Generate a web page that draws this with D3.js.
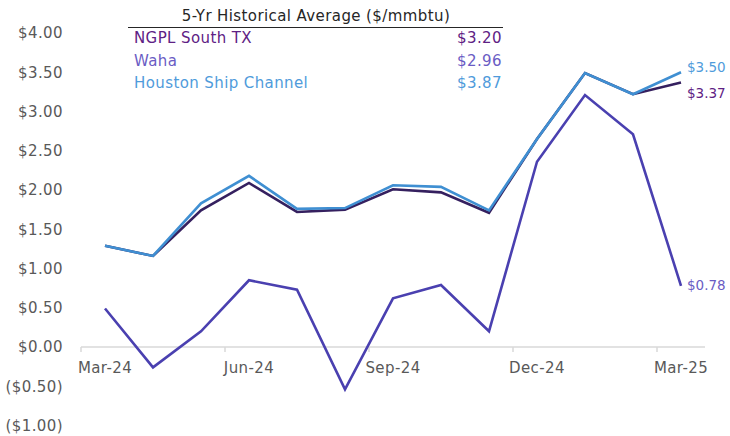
<!DOCTYPE html>
<html>
<head>
<meta charset="utf-8">
<script src="https://cdn.jsdelivr.net/npm/d3@7"></script>
<style>
  body { margin: 0; background: #fff; }
  svg text { font-family: "DejaVu Sans", "Noto Sans", sans-serif; letter-spacing: 0.4px; }
</style>
</head>
<body>
<div id="chart"></div>
<script>
const width = 730;
const height = 436;

// Data
const months = ["Mar-24", "Apr-24", "May-24", "Jun-24", "Jul-24", "Aug-24", "Sep-24",
  "Oct-24", "Nov-24", "Dec-24", "Jan-25", "Feb-25", "Mar-25"];
const ngpl = [1.29, 1.16, 1.74, 2.09, 1.72, 1.75, 2.01, 1.97, 1.71, 2.65, 3.49, 3.22, 3.37];
const waha = [0.49, -0.26, 0.20, 0.85, 0.73, -0.54, 0.62, 0.79, 0.20, 2.36, 3.21, 2.71, 0.78];
const hsc = [1.29, 1.16, 1.83, 2.18, 1.76, 1.77, 2.06, 2.04, 1.74, 2.65, 3.49, 3.22, 3.50];
const xTickLabels = ["Mar-24", "Jun-24", "Sep-24", "Dec-24", "Mar-25"];
const yTicks = [-1, -0.5, 0, 0.5, 1, 1.5, 2, 2.5, 3, 3.5, 4];
const legendNames = ["NGPL South TX", "Waha", "Houston Ship Channel"];
const legendAvg = [3.20, 2.96, 3.87];

const lineColors = ["#35205f", "#4a40b0", "#3f8fd2"];
const textColors = ["#5e2184", "#6a5cc4", "#4f9bdb"];

const svg = d3.select("#chart")
  .append("svg")
  .attr("width", width)
  .attr("height", height);

const x = d3.scaleBand()
  .domain(months)
  .range([81, 705]);

const y = d3.scaleLinear()
  .domain([-1, 4])
  .range([425.5, 33]);

const money = v => v < 0 ? "($" + d3.format(".2f")(-v) + ")" : "$" + d3.format(".2f")(v);
const fs = "15px";

// y labels
svg.append("g")
  .selectAll("text")
  .data(yTicks)
  .enter()
  .append("text")
  .attr("x", 63)
  .attr("y", d => y(d))
  .attr("dy", "0.35em")
  .attr("text-anchor", "end")
  .style("font-size", fs)
  .style("fill", "#595959")
  .text(money);

// x axis
const xAxis = svg.append("g");
xAxis.append("line")
  .attr("x1", 81).attr("x2", 705)
  .attr("y1", y(0)).attr("y2", y(0))
  .attr("stroke", "#d9d9d9")
  .attr("stroke-width", 1.5);

const tickIdx = [0, 3, 6, 9, 12];
xAxis.selectAll("line.tick")
  .data(tickIdx)
  .enter()
  .append("line")
  .attr("class", "tick")
  .attr("x1", d => x(months[d])).attr("x2", d => x(months[d]))
  .attr("y1", y(0)).attr("y2", y(0) + 5)
  .attr("stroke", "#d9d9d9")
  .attr("stroke-width", 1.5);

xAxis.selectAll("text")
  .data(xTickLabels)
  .enter()
  .append("text")
  .attr("x", d => x(d) + x.bandwidth() / 2)
  .attr("y", y(0) + 21)
  .attr("dy", "0.35em")
  .attr("text-anchor", "middle")
  .style("font-size", fs)
  .style("fill", "#595959")
  .text(d => d);

// lines
const line = d3.line()
  .x((d, i) => x(months[i]) + x.bandwidth() / 2)
  .y(d => y(d));

const series = [ngpl, waha, hsc];
[waha, ngpl, hsc].forEach(s => {
  const k = series.indexOf(s);
  svg.append("path")
    .datum(s)
    .attr("fill", "none")
    .attr("stroke", lineColors[k])
    .attr("stroke-width", 2.6)
    .attr("stroke-linejoin", "miter")
    .attr("d", line);
});

// end labels (kept inside the frame)
const last = months.length - 1;
const endDy = [11, 0, -5];
series.forEach((s, k) => {
  svg.append("text")
    .attr("x", x(months[last]) + x.bandwidth() / 2 + 6)
    .attr("y", y(s[last]) + endDy[k])
    .attr("dy", "0.35em")
    .style("font-size", "13.5px")
    .style("letter-spacing", "0px")
    .style("fill", textColors[k])
    .text(money(s[last]));
});

// legend table
const leg = svg.append("g");
leg.append("text")
  .attr("x", 316)
  .attr("y", 16)
  .attr("dy", "0.35em")
  .attr("text-anchor", "middle")
  .style("font-size", fs)
  .style("fill", "#262626")
  .text("5-Yr Historical Average  ($/mmbtu)");
leg.append("line")
  .attr("x1", 128).attr("x2", 503)
  .attr("y1", 27.5).attr("y2", 27.5)
  .attr("stroke", "#262626")
  .attr("stroke-width", 1.2);

legendNames.forEach((n, i) => {
  leg.append("text")
    .attr("x", 134)
    .attr("y", 38 + i * 22.5)
    .attr("dy", "0.35em")
    .style("font-size", fs)
    .style("fill", textColors[i])
    .text(n);
  leg.append("text")
    .attr("x", 502)
    .attr("y", 38 + i * 22.5)
    .attr("dy", "0.35em")
    .attr("text-anchor", "end")
    .style("font-size", fs)
    .style("fill", textColors[i])
    .text("$" + d3.format(".2f")(legendAvg[i]));
});
</script>
</body>
</html>
